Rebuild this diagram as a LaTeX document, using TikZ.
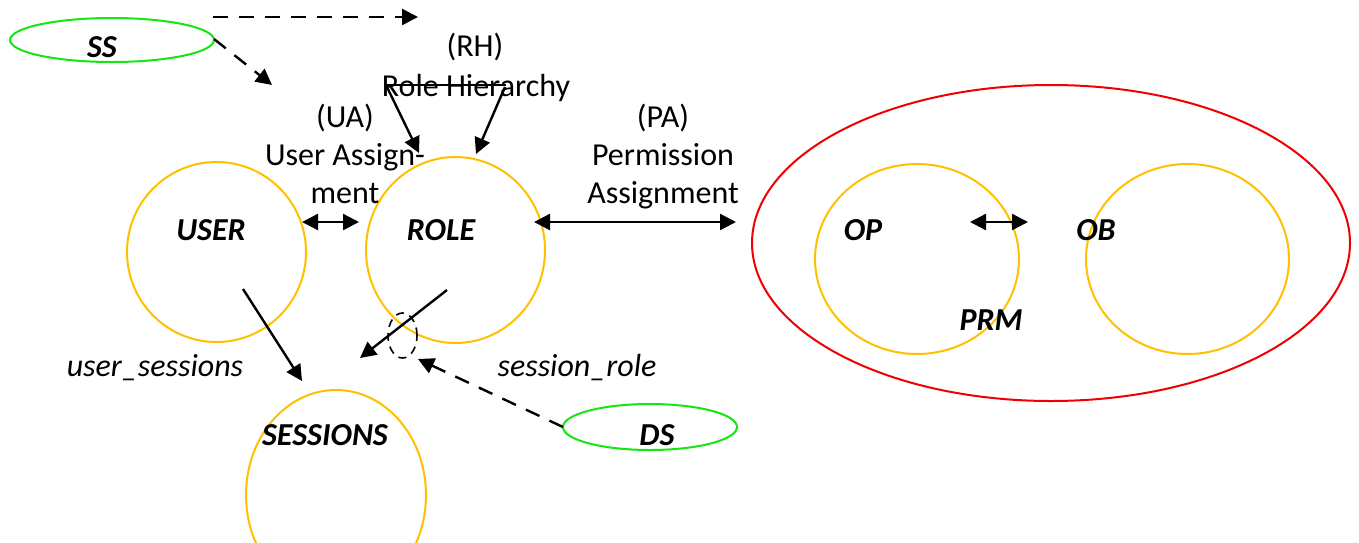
\documentclass[tikz,border=0pt]{standalone}
\usepackage{fontspec}
\setmainfont{Carlito}
\usetikzlibrary{arrows.meta,shapes.geometric}
\definecolor{gold}{RGB}{255,192,0}
\definecolor{lime}{RGB}{20,230,20}
\definecolor{redl}{RGB}{240,0,0}
\begin{document}
\begin{tikzpicture}[x=0.5pt,y=-0.5pt,
  every node/.style={font=\fontsize{16}{19}\selectfont},
  ring/.style={draw=gold,line width=1pt,ellipse,inner sep=0pt},
  gring/.style={draw=lime,line width=1pt,ellipse,inner sep=0pt},
  lbl/.style={font=\fontsize{16}{19}\selectfont\bfseries\itshape,anchor=base,inner sep=0pt},
  txt/.style={anchor=base,inner sep=0pt},
  itxt/.style={font=\fontsize{16}{19}\selectfont\itshape,anchor=base,inner sep=0pt},
  arr/.style={-{Triangle[length=8pt,width=8pt]},line width=1.2pt},
  darr/.style={{Triangle[length=8pt,width=8pt]}-{Triangle[length=8pt,width=8pt]},line width=1.2pt},
  dsh/.style={arr,dash pattern=on 7.5pt off 5.5pt}]
\useasboundingbox (0,0) rectangle (1359,542);
% shapes
\node[gring,minimum width=102pt,minimum height=22pt] (ss) at (112,40) {};
\node[gring,minimum width=87pt,minimum height=23pt] (ds) at (650,427) {};
\node[ring,minimum width=89.5pt,minimum height=90pt] (user) at (216.5,252) {};
\node[ring,minimum width=89.5pt,minimum height=93pt] (role) at (455.5,250) {};
\node[ring,minimum width=90pt,minimum height=105pt] (sess) at (336,495) {};
\node[draw=redl,line width=1pt,ellipse,inner sep=0pt,minimum width=299pt,minimum height=158pt] (prm) at (1051,243) {};
\node[ring,minimum width=102pt,minimum height=95pt] (op) at (917,259) {};
\node[ring,minimum width=101.5pt,minimum height=95pt] (ob) at (1187.5,259) {};
\node[draw,line width=0.8pt,dash pattern=on 4pt off 3pt,ellipse,inner sep=0pt,minimum width=14.5pt,minimum height=22.5pt] (sr) at (402.5,335.5) {};
% labels
\node[lbl] (tss) at (102,57) {SS};
\node[lbl] (tds) at (657,445) {DS};
\node[lbl] (tuser) at (211,240) {USER};
\node[lbl] (trole) at (441,240) {ROLE};
\node[lbl] (tsess) at (325,445) {SESSIONS};
\node[lbl] (top) at (863,240) {OP};
\node[lbl] (tob) at (1096,240) {OB};
\node[lbl] (tprm) at (991,330) {PRM};
\node[txt] (rh1) at (475,56) {(RH)};
\node[txt] (rh2) at (476,96) {Role Hierarchy};
\node[txt] (ua1) at (345,127) {(UA)};
\node[txt] (ua2) at (345,165) {User Assign-};
\node[txt] (ua3) at (345,203) {ment};
\node[txt] (pa1) at (663,127) {(PA)};
\node[txt] (pa2) at (663,165) {Permission};
\node[txt] (pa3) at (663,203) {Assignment};
\node[itxt] (tus) at (155,376) {user\_sessions};
\node[itxt] (tsr) at (577,376) {session\_role};
% connector end points
\coordinate (a1) at (213,17);
\coordinate (a2) at (418,17);
\coordinate (b1) at (214,39);
\coordinate (b2) at (272,85);
\coordinate (rhL) at (386,85);
\coordinate (rhR) at (506,85);
\coordinate (rh3) at (419,153);
\coordinate (rh4) at (505,87);
\coordinate (rh5) at (476,154);
\coordinate (ua4) at (302,222);
\coordinate (ua5) at (359,222);
\coordinate (pa4) at (534,222);
\coordinate (pa5) at (736,222);
\coordinate (ob1) at (970,222);
\coordinate (ob2) at (1028,222);
\coordinate (us1) at (243,289);
\coordinate (us2) at (302,381);
\coordinate (rs1) at (447,290);
\coordinate (rs2) at (360,358);
\coordinate (ds1) at (563,427);
\coordinate (ds2) at (418,359);
% connectors
\draw[dsh] (a1) -- (a2);
\draw[dsh] (b1) -- (b2);
\draw[line width=1.2pt] (rhL) -- (rhR);
\draw[arr] (rhL) -- (rh3);
\draw[arr] (rh4) -- (rh5);
\draw[darr] (ua4) -- (ua5);
\draw[darr] (pa4) -- (pa5);
\draw[darr] (ob1) -- (ob2);
\draw[arr] (us1) -- (us2);
\draw[arr] (rs1) -- (rs2);
\draw[dsh] (ds1) -- (ds2);
\end{tikzpicture}
\end{document}
